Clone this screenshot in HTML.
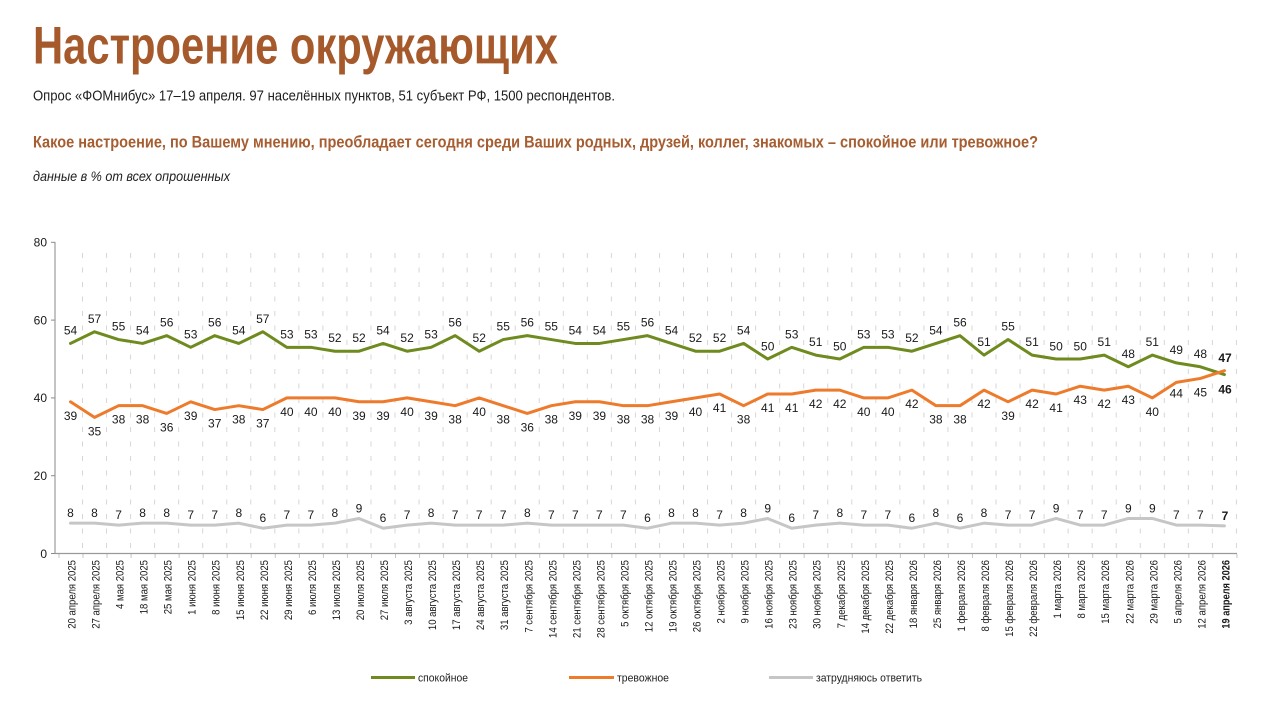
<!DOCTYPE html>
<html lang="ru">
<head>
<meta charset="utf-8">
<style>
html,body{margin:0;padding:0;background:#fff;}
svg{display:block;}
text{font-family:"Liberation Sans","DejaVu Sans",sans-serif;}
</style>
</head>
<body>
<svg width="1280" height="725" viewBox="0 0 1280 725" xmlns="http://www.w3.org/2000/svg">
<defs>
<pattern id="grid" x="82" y="253" width="24.04" height="14.5" patternUnits="userSpaceOnUse">
<rect x="0" y="0" width="1" height="5" fill="#d6d6d6"/>
</pattern>
<pattern id="xt" x="58.46" y="554" width="24.04" height="4" patternUnits="userSpaceOnUse">
<rect x="0" y="0" width="1" height="4" fill="#c4c4c4"/>
</pattern>
</defs>
<rect width="1280" height="725" fill="#fff"/>

<!-- Headings -->
<text x="33" y="63.5" font-size="53" font-weight="bold" fill="#a65a2b" textLength="525" lengthAdjust="spacingAndGlyphs">Настроение окружающих</text>
<text x="33" y="100.5" font-size="14.5" fill="#1e1e1e" textLength="582" lengthAdjust="spacingAndGlyphs">Опрос «ФОМнибус» 17–19 апреля. 97 населённых пунктов, 51 субъект РФ, 1500 респондентов.</text>
<text x="33" y="147.5" font-size="17" font-weight="bold" fill="#a65d30" textLength="1005" lengthAdjust="spacingAndGlyphs">Какое настроение, по Вашему мнению, преобладает сегодня среди Ваших родных, друзей, коллег, знакомых – спокойное или тревожное?</text>
<text x="33" y="181" font-size="14" font-style="italic" fill="#1e1e1e" textLength="197" lengthAdjust="spacingAndGlyphs">данные в % от всех опрошенных</text>

<!-- Grid -->
<rect x="81" y="253" width="1158" height="298" fill="url(#grid)"/>
<rect x="57" y="554" width="1182" height="4" fill="url(#xt)"/>

<!-- Axes -->
<line x1="55" y1="242" x2="55" y2="554" stroke="#8a8a8a" stroke-width="1"/>
<line x1="55" y1="553.5" x2="1237" y2="553.5" stroke="#9a9a9a" stroke-width="1.2"/>
<g stroke="#8a8a8a" stroke-width="1">
<line x1="51" y1="242.3" x2="55" y2="242.3"/>
<line x1="51" y1="320.1" x2="55" y2="320.1"/>
<line x1="51" y1="397.9" x2="55" y2="397.9"/>
<line x1="51" y1="475.7" x2="55" y2="475.7"/>
<line x1="51" y1="553.5" x2="55" y2="553.5"/>
</g>
<g font-size="12" fill="#1a1a1a" text-anchor="end">
<text x="47" y="246.6">80</text>
<text x="47" y="324.4">60</text>
<text x="47" y="402.2">40</text>
<text x="47" y="480">20</text>
<text x="47" y="557.8">0</text>
</g>

<!-- Series -->
<g transform="translate(70.5,553.5) scale(24.04,-3.89)" fill="none" stroke-linejoin="round" stroke-linecap="round">
<polyline vector-effect="non-scaling-stroke" stroke="#c6c6c6" stroke-width="3" points="0,7.8 1,7.8 2,7.3 3,7.8 4,7.8 5,7.3 6,7.3 7,7.8 8,6.5 9,7.3 10,7.3 11,7.8 12,9 13,6.5 14,7.3 15,7.8 16,7.3 17,7.3 18,7.3 19,7.8 20,7.3 21,7.3 22,7.3 23,7.3 24,6.5 25,7.8 26,7.8 27,7.3 28,7.8 29,9 30,6.5 31,7.3 32,7.8 33,7.3 34,7.3 35,6.5 36,7.8 37,6.5 38,7.8 39,7.3 40,7.3 41,9 42,7.3 43,7.3 44,9 45,9 46,7.3 47,7.3 48,7.1"/>
<polyline vector-effect="non-scaling-stroke" stroke="#6f8a1f" stroke-width="3" points="0,54 1,57 2,55 3,54 4,56 5,53 6,56 7,54 8,57 9,53 10,53 11,52 12,52 13,54 14,52 15,53 16,56 17,52 18,55 19,56 20,55 21,54 22,54 23,55 24,56 25,54 26,52 27,52 28,54 29,50 30,53 31,51 32,50 33,53 34,53 35,52 36,54 37,56 38,51 39,55 40,51 41,50 42,50 43,51 44,48 45,51 46,49 47,48 48,46"/>
<polyline vector-effect="non-scaling-stroke" stroke="#ee7a2c" stroke-width="3" points="0,39 1,35 2,38 3,38 4,36 5,39 6,37 7,38 8,37 9,40 10,40 11,40 12,39 13,39 14,40 15,39 16,38 17,40 18,38 19,36 20,38 21,39 22,39 23,38 24,38 25,39 26,40 27,41 28,38 29,41 30,41 31,42 32,42 33,40 34,40 35,42 36,38 37,38 38,42 39,39 40,42 41,41 42,43 43,42 44,43 45,40 46,44 47,45 48,47"/>
</g>

<!-- Green labels -->
<g font-size="12" fill="#1a1a1a" text-anchor="middle">
<text x="70.5" y="334.4">54</text>
<text x="94.5" y="322.8">57</text>
<text x="118.6" y="330.6">55</text>
<text x="142.6" y="334.4">54</text>
<text x="166.7" y="326.7">56</text>
<text x="190.7" y="338.3">53</text>
<text x="214.7" y="326.7">56</text>
<text x="238.8" y="334.4">54</text>
<text x="262.8" y="322.8">57</text>
<text x="286.9" y="338.3">53</text>
<text x="310.9" y="338.3">53</text>
<text x="334.9" y="342.2">52</text>
<text x="359.0" y="342.2">52</text>
<text x="383.0" y="334.4">54</text>
<text x="407.1" y="342.2">52</text>
<text x="431.1" y="338.3">53</text>
<text x="455.1" y="326.7">56</text>
<text x="479.2" y="342.2">52</text>
<text x="503.2" y="330.6">55</text>
<text x="527.3" y="326.7">56</text>
<text x="551.3" y="330.6">55</text>
<text x="575.3" y="334.4">54</text>
<text x="599.4" y="334.4">54</text>
<text x="623.4" y="330.6">55</text>
<text x="647.5" y="326.7">56</text>
<text x="671.5" y="334.4">54</text>
<text x="695.5" y="342.2">52</text>
<text x="719.6" y="342.2">52</text>
<text x="743.6" y="334.4">54</text>
<text x="767.7" y="350.5">50</text>
<text x="791.7" y="338.3">53</text>
<text x="815.7" y="346.1">51</text>
<text x="839.8" y="350.5">50</text>
<text x="863.8" y="338.3">53</text>
<text x="887.9" y="338.3">53</text>
<text x="911.9" y="342.2">52</text>
<text x="935.9" y="334.4">54</text>
<text x="960.0" y="326.7">56</text>
<text x="984.0" y="346.1">51</text>
<text x="1008.1" y="330.6">55</text>
<text x="1032.1" y="346.1">51</text>
<text x="1056.1" y="350.5">50</text>
<text x="1080.2" y="350.5">50</text>
<text x="1104.2" y="346.1">51</text>
<text x="1128.3" y="357.8">48</text>
<text x="1152.3" y="346.1">51</text>
<text x="1176.3" y="353.9">49</text>
<text x="1200.4" y="357.8">48</text>
<text x="1225" y="393.5" font-weight="bold">46</text>
</g>

<!-- Orange labels -->
<g font-size="12" fill="#1a1a1a" text-anchor="middle">
<text x="70.5" y="419.8">39</text>
<text x="94.5" y="435.4">35</text>
<text x="118.6" y="423.7">38</text>
<text x="142.6" y="423.7">38</text>
<text x="166.7" y="431.5">36</text>
<text x="190.7" y="419.8">39</text>
<text x="214.7" y="427.6">37</text>
<text x="238.8" y="423.7">38</text>
<text x="262.8" y="427.6">37</text>
<text x="286.9" y="415.9">40</text>
<text x="310.9" y="415.9">40</text>
<text x="334.9" y="415.9">40</text>
<text x="359.0" y="419.8">39</text>
<text x="383.0" y="419.8">39</text>
<text x="407.1" y="415.9">40</text>
<text x="431.1" y="419.8">39</text>
<text x="455.1" y="423.7">38</text>
<text x="479.2" y="415.9">40</text>
<text x="503.2" y="423.7">38</text>
<text x="527.3" y="431.5">36</text>
<text x="551.3" y="423.7">38</text>
<text x="575.3" y="419.8">39</text>
<text x="599.4" y="419.8">39</text>
<text x="623.4" y="423.7">38</text>
<text x="647.5" y="423.7">38</text>
<text x="671.5" y="419.8">39</text>
<text x="695.5" y="415.9">40</text>
<text x="719.6" y="412">41</text>
<text x="743.6" y="423.7">38</text>
<text x="767.7" y="412">41</text>
<text x="791.7" y="412">41</text>
<text x="815.7" y="408.1">42</text>
<text x="839.8" y="408.1">42</text>
<text x="863.8" y="415.9">40</text>
<text x="887.9" y="415.9">40</text>
<text x="911.9" y="408.1">42</text>
<text x="935.9" y="423.7">38</text>
<text x="960.0" y="423.7">38</text>
<text x="984.0" y="408.1">42</text>
<text x="1008.1" y="419.8">39</text>
<text x="1032.1" y="408.1">42</text>
<text x="1056.1" y="412">41</text>
<text x="1080.2" y="404.2">43</text>
<text x="1104.2" y="408.1">42</text>
<text x="1128.3" y="404.2">43</text>
<text x="1152.3" y="415.9">40</text>
<text x="1176.3" y="397.5">44</text>
<text x="1200.4" y="396.5">45</text>
<text x="1225" y="362" font-weight="bold">47</text>
</g>

<!-- Gray labels -->
<g font-size="12" fill="#1a1a1a" text-anchor="middle">
<text x="70.5" y="517.2">8</text>
<text x="94.5" y="517.2">8</text>
<text x="118.6" y="519.1">7</text>
<text x="142.6" y="517.2">8</text>
<text x="166.7" y="517.2">8</text>
<text x="190.7" y="519.1">7</text>
<text x="214.7" y="519.1">7</text>
<text x="238.8" y="517.2">8</text>
<text x="262.8" y="522.2">6</text>
<text x="286.9" y="519.1">7</text>
<text x="310.9" y="519.1">7</text>
<text x="334.9" y="517.2">8</text>
<text x="359.0" y="512.5">9</text>
<text x="383.0" y="522.2">6</text>
<text x="407.1" y="519.1">7</text>
<text x="431.1" y="517.2">8</text>
<text x="455.1" y="519.1">7</text>
<text x="479.2" y="519.1">7</text>
<text x="503.2" y="519.1">7</text>
<text x="527.3" y="517.2">8</text>
<text x="551.3" y="519.1">7</text>
<text x="575.3" y="519.1">7</text>
<text x="599.4" y="519.1">7</text>
<text x="623.4" y="519.1">7</text>
<text x="647.5" y="522.2">6</text>
<text x="671.5" y="517.2">8</text>
<text x="695.5" y="517.2">8</text>
<text x="719.6" y="519.1">7</text>
<text x="743.6" y="517.2">8</text>
<text x="767.7" y="512.5">9</text>
<text x="791.7" y="522.2">6</text>
<text x="815.7" y="519.1">7</text>
<text x="839.8" y="517.2">8</text>
<text x="863.8" y="519.1">7</text>
<text x="887.9" y="519.1">7</text>
<text x="911.9" y="522.2">6</text>
<text x="935.9" y="517.2">8</text>
<text x="960.0" y="522.2">6</text>
<text x="984.0" y="517.2">8</text>
<text x="1008.1" y="519.1">7</text>
<text x="1032.1" y="519.1">7</text>
<text x="1056.1" y="512.5">9</text>
<text x="1080.2" y="519.1">7</text>
<text x="1104.2" y="519.1">7</text>
<text x="1128.3" y="512.5">9</text>
<text x="1152.3" y="512.5">9</text>
<text x="1176.3" y="519.1">7</text>
<text x="1200.4" y="519.1">7</text>
<text x="1225" y="520" font-weight="bold">7</text>
</g>

<!-- X axis labels -->
<g font-size="11" fill="#1a1a1a" text-anchor="end">
<text transform="translate(75.5,560) rotate(-90) scale(0.87,1)">20 апреля 2025</text>
<text transform="translate(99.5,560) rotate(-90) scale(0.87,1)">27 апреля 2025</text>
<text transform="translate(123.6,560) rotate(-90) scale(0.87,1)">4 мая 2025</text>
<text transform="translate(147.6,560) rotate(-90) scale(0.87,1)">18 мая 2025</text>
<text transform="translate(171.7,560) rotate(-90) scale(0.87,1)">25 мая 2025</text>
<text transform="translate(195.7,560) rotate(-90) scale(0.87,1)">1 июня 2025</text>
<text transform="translate(219.7,560) rotate(-90) scale(0.87,1)">8 июня 2025</text>
<text transform="translate(243.8,560) rotate(-90) scale(0.87,1)">15 июня 2025</text>
<text transform="translate(267.8,560) rotate(-90) scale(0.87,1)">22 июня 2025</text>
<text transform="translate(291.9,560) rotate(-90) scale(0.87,1)">29 июня 2025</text>
<text transform="translate(315.9,560) rotate(-90) scale(0.87,1)">6 июля 2025</text>
<text transform="translate(339.9,560) rotate(-90) scale(0.87,1)">13 июля 2025</text>
<text transform="translate(364.0,560) rotate(-90) scale(0.87,1)">20 июля 2025</text>
<text transform="translate(388.0,560) rotate(-90) scale(0.87,1)">27 июля 2025</text>
<text transform="translate(412.1,560) rotate(-90) scale(0.87,1)">3 августа 2025</text>
<text transform="translate(436.1,560) rotate(-90) scale(0.87,1)">10 августа 2025</text>
<text transform="translate(460.1,560) rotate(-90) scale(0.87,1)">17 августа 2025</text>
<text transform="translate(484.2,560) rotate(-90) scale(0.87,1)">24 августа 2025</text>
<text transform="translate(508.2,560) rotate(-90) scale(0.87,1)">31 августа 2025</text>
<text transform="translate(532.3,560) rotate(-90) scale(0.87,1)">7 сентября 2025</text>
<text transform="translate(556.3,560) rotate(-90) scale(0.87,1)">14 сентября 2025</text>
<text transform="translate(580.3,560) rotate(-90) scale(0.87,1)">21 сентября 2025</text>
<text transform="translate(604.4,560) rotate(-90) scale(0.87,1)">28 сентября 2025</text>
<text transform="translate(628.4,560) rotate(-90) scale(0.87,1)">5 октября 2025</text>
<text transform="translate(652.5,560) rotate(-90) scale(0.87,1)">12 октября 2025</text>
<text transform="translate(676.5,560) rotate(-90) scale(0.87,1)">19 октября 2025</text>
<text transform="translate(700.5,560) rotate(-90) scale(0.87,1)">26 октября 2025</text>
<text transform="translate(724.6,560) rotate(-90) scale(0.87,1)">2 ноября 2025</text>
<text transform="translate(748.6,560) rotate(-90) scale(0.87,1)">9 ноября 2025</text>
<text transform="translate(772.7,560) rotate(-90) scale(0.87,1)">16 ноября 2025</text>
<text transform="translate(796.7,560) rotate(-90) scale(0.87,1)">23 ноября 2025</text>
<text transform="translate(820.7,560) rotate(-90) scale(0.87,1)">30 ноября 2025</text>
<text transform="translate(844.8,560) rotate(-90) scale(0.87,1)">7 декабря 2025</text>
<text transform="translate(868.8,560) rotate(-90) scale(0.87,1)">14 декабря 2025</text>
<text transform="translate(892.9,560) rotate(-90) scale(0.87,1)">22 декабря 2025</text>
<text transform="translate(916.9,560) rotate(-90) scale(0.87,1)">18 января 2026</text>
<text transform="translate(940.9,560) rotate(-90) scale(0.87,1)">25 января 2026</text>
<text transform="translate(965.0,560) rotate(-90) scale(0.87,1)">1 февраля 2026</text>
<text transform="translate(989.0,560) rotate(-90) scale(0.87,1)">8 февраля 2026</text>
<text transform="translate(1013.1,560) rotate(-90) scale(0.87,1)">15 февраля 2026</text>
<text transform="translate(1037.1,560) rotate(-90) scale(0.87,1)">22 февраля 2026</text>
<text transform="translate(1061.1,560) rotate(-90) scale(0.87,1)">1 марта 2026</text>
<text transform="translate(1085.2,560) rotate(-90) scale(0.87,1)">8 марта 2026</text>
<text transform="translate(1109.2,560) rotate(-90) scale(0.87,1)">15 марта 2026</text>
<text transform="translate(1133.3,560) rotate(-90) scale(0.87,1)">22 марта 2026</text>
<text transform="translate(1157.3,560) rotate(-90) scale(0.87,1)">29 марта 2026</text>
<text transform="translate(1181.3,560) rotate(-90) scale(0.87,1)">5 апреля 2026</text>
<text transform="translate(1205.4,560) rotate(-90) scale(0.87,1)">12 апреля 2026</text>
<text transform="translate(1229.4,560) rotate(-90) scale(0.84,1)" font-weight="bold">19 апреля 2026</text>
</g>

<!-- Legend -->
<line x1="371" y1="677.5" x2="415" y2="677.5" stroke="#6f8a1f" stroke-width="3"/>
<text x="418" y="681.5" font-size="11" fill="#1e1e1e" textLength="50" lengthAdjust="spacingAndGlyphs">спокойное</text>
<line x1="569" y1="677.5" x2="614" y2="677.5" stroke="#ee7a2c" stroke-width="3"/>
<text x="617" y="681.5" font-size="11" fill="#1e1e1e" textLength="52" lengthAdjust="spacingAndGlyphs">тревожное</text>
<line x1="769" y1="677.5" x2="813" y2="677.5" stroke="#c6c6c6" stroke-width="3"/>
<text x="816" y="681.5" font-size="11" fill="#1e1e1e" textLength="106" lengthAdjust="spacingAndGlyphs">затрудняюсь ответить</text>
</svg>
</body>
</html>
